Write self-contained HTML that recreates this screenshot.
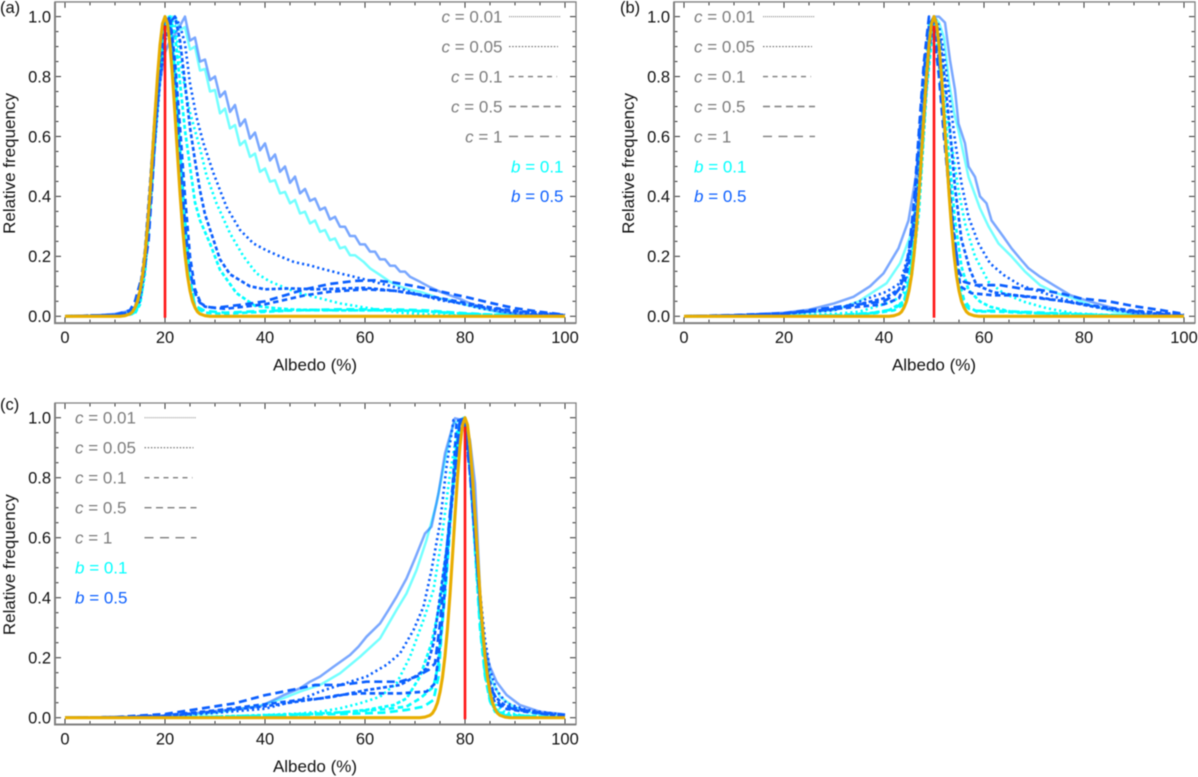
<!DOCTYPE html>
<html><head><meta charset="utf-8"><title>Albedo relative frequency</title>
<style>
html,body{margin:0;padding:0;background:#fff;width:1198px;height:777px;overflow:hidden}
svg{display:block;filter:blur(.45px)}
text{font-family:"Liberation Sans",Arial,sans-serif;fill:#111}
</style></head>
<body>
<svg id="chart" xmlns="http://www.w3.org/2000/svg" width="1198" height="777" viewBox="0 0 1198 777"></svg>
<script>
// Tick labels and legend
const xTickValues=[0,20,40,60,80,100];
const yTickValues=[0,0.2,0.4,0.6,0.8,1.0];
const xMinorStep=5;
const yMinorStep=0.05;
const legendC=['0.01','0.05','0.1','0.5','1'];
const legendB=['0.1','0.5'];
const legendY=[1.0,0.9,0.8,0.7,0.6,0.5,0.4];
const peakA=20, peakB=50, peakC=80;

// Panel (a): [albedo, relative frequency]
const a_b01_c001=[[0,0],[8,.003],[12,.008],[14,.02],[15,.05],[16,.16],[17,.36],[18,.58],[19,.8],[20,.95],[20.7,1],[22,1],[23,.955],[24,.965],[25,.89],[26,.9],[27,.82],[28,.825],[29,.75],[30,.755],[31,.677],[32,.693],[33,.627],[34,.638],[35,.571],[36,.586],[37,.532],[38,.543],[39,.482],[40,.493],[41,.449],[42,.454],[43,.41],[44,.415],[45,.377],[46,.388],[47,.343],[48,.349],[49,.31],[50,.32],[51,.282],[52,.288],[53,.254],[54,.26],[55,.227],[56,.232],[57,.204],[58,.204],[59.7,.182],[61,.16],[63,.138],[65,.115],[67,.099],[69,.088],[71,.082],[73,.071],[75,.06],[77,.054],[79,.043],[83,.027],[87,.012],[91,.004],[100,0]];
const a_b01_c005=[[0,0],[12,.003],[14,.012],[15,.04],[16,.14],[17,.34],[18,.58],[19,.8],[20,.95],[21,1],[22,.97],[23,.86],[24,.76],[25,.68],[26,.62],[27,.56],[28.3,.47],[30.3,.377],[33,.277],[35.7,.2],[38.3,.143],[41,.116],[44.3,.093],[47,.077],[51,.06],[55,.043],[59,.032],[63,.021],[67,.012],[75,.004],[87,.001],[100,0]];
const a_b01_c01=[[0,0],[12,.002],[14,.01],[15,.04],[16,.15],[17,.36],[18,.6],[19,.82],[20,.96],[21,1],[22,.94],[23,.78],[24,.62],[25,.5],[26,.38],[27,.32],[29,.243],[31,.155],[34.3,.077],[38,.035],[42,.027],[46,.022],[55,.02],[65,.02],[72,.017],[78,.01],[85,.005],[100,0]];
const a_b01_c05=[[0,0],[12,.002],[14,.012],[15,.05],[16,.18],[17,.4],[18,.65],[19,.87],[20,.98],[21,1],[22,.82],[23,.56],[24,.32],[25,.13],[26,.03],[28,.012],[32,.008],[36,.012],[40,.015],[46,.02],[55,.02],[65,.02],[72,.017],[78,.01],[85,.005],[100,0]];
const a_b01_c1=[[0,0],[12,.002],[14,.014],[15,.06],[16,.2],[17,.42],[18,.68],[19,.9],[20,1],[21,.96],[22,.76],[23,.5],[24,.27],[25,.11],[26,.035],[28,.018],[32,.012],[36,.015],[40,.018],[46,.02],[55,.023],[65,.023],[72,.02],[78,.012],[85,.006],[100,0]];
const a_b05_c001=[[0,0],[5,.002],[8,.005],[10,.008],[12,.015],[13,.02],[14,.03],[15,.06],[16,.2],[17,.42],[18,.62],[19,.78],[20,.88],[21,.92],[22,.94],[23,.97],[24,1],[25,.92],[26,.93],[27,.85],[28,.857],[29,.788],[30,.8],[31,.732],[32,.75],[33,.682],[34,.705],[35,.635],[36,.657],[37,.593],[38,.613],[39,.554],[40,.577],[41,.52],[42,.54],[43,.482],[44,.5],[45,.445],[46,.466],[47,.41],[48,.425],[49,.385],[50,.393],[51,.355],[52,.363],[53,.323],[54,.332],[55,.299],[56,.299],[57,.268],[58,.268],[59,.24],[60,.24],[61,.216],[62,.216],[63,.19],[64,.19],[65,.169],[66,.169],[67,.149],[68,.149],[69,.132],[71,.115],[73,.097],[75,.082],[77,.07],[79,.058],[81,.043],[83,.032],[85,.023],[87,.015],[91,.008],[95,.004],[100,.002]];
const a_b05_c005=[[0,0],[10,.005],[13,.012],[15,.05],[16,.16],[17,.36],[18,.58],[19,.78],[20,.92],[21,.98],[22,1],[23,.97],[24,.91],[25,.777],[26.3,.665],[27.7,.577],[29.7,.477],[32.3,.365],[35,.288],[37.7,.243],[40.3,.22],[43,.2],[45.7,.182],[47,.177],[49,.17],[51,.16],[55,.143],[59,.127],[63,.11],[67,.093],[71,.071],[75,.054],[79,.043],[83,.027],[87,.016],[91,.008],[100,.004]];
const a_b05_c01=[[0,0],[10,.004],[13,.014],[14,.03],[15,.08],[16,.2],[17,.4],[18,.62],[19,.8],[20,.92],[21,.98],[22,1],[23,.92],[24,.777],[25,.63],[26,.52],[27,.42],[28,.34],[29,.29],[30,.24],[31,.19],[33,.14],[35,.12],[37,.1],[40,.09],[45,.093],[50,.09],[55,.092],[60,.095],[66,.085],[72,.068],[80,.04],[85,.027],[90,.015],[100,.003]];
const a_b05_c05=[[0,0],[10,.004],[13,.015],[14,.03],[15,.09],[16,.22],[17,.44],[18,.67],[19,.86],[20,.97],[21,1],[22,.85],[23,.63],[24,.4],[25,.2],[26,.09],[27,.05],[28,.032],[32,.025],[40,.04],[48,.07],[53,.082],[60,.09],[66,.085],[72,.07],[80,.045],[85,.03],[90,.018],[95,.012],[100,.004]];
const a_b05_c1=[[0,0],[10,.005],[13,.02],[14,.05],[15,.11],[15.7,.14],[16.7,.25],[17.5,.45],[18.3,.68],[19,.9],[20,1],[21,.97],[22,.76],[22.3,.69],[23.3,.443],[24,.3],[24.7,.19],[25.5,.11],[26.3,.065],[27,.045],[28.3,.032],[30,.028],[32,.032],[36,.04],[40,.05],[44,.07],[48,.09],[53,.108],[58,.118],[62,.12],[66,.112],[70,.1],[75,.083],[80,.065],[85,.045],[90,.027],[95,.015],[100,.005]];
const goldA=[[0,0],[11,0],[12,.002],[13,.008],[13.5,.015],[14,.029],[14.5,.05],[15,.085],[15.5,.135],[16,.206],[16.5,.298],[17,.411],[17.5,.54],[18,.674],[18.5,.8],[19,.906],[19.5,.976],[20,1],[20.5,.976],[21,.906],[21.5,.8],[22,.674],[22.5,.54],[23,.411],[23.5,.298],[24,.206],[24.5,.135],[25,.085],[25.5,.05],[26,.029],[26.5,.015],[27,.008],[28,.002],[29,0],[100,0]];

// Panel (b)
const b_b01_c001=[[0,0],[10,.001],[20,.006],[30,.02],[35,.05],[37.9,.082],[40.5,.11],[43.2,.177],[45.2,.265],[46.5,.388],[47.9,.68],[49,.9],[50,1],[51,.98],[52,.93],[53,.78],[54,.68],[54.9,.62],[56.9,.465],[59.2,.36],[60.9,.3],[62.9,.243],[65.5,.2],[68.2,.149],[71.2,.104],[74.5,.077],[77.9,.06],[81.2,.038],[85.9,.016],[89.9,.007],[100,0]];
const b_b01_c005=[[0,0],[20,.003],[30,.008],[35,.015],[41.9,.05],[43.9,.077],[45.2,.165],[46.2,.277],[47.5,.5],[49,.9],[50,1],[51,.95],[52.2,.72],[53.5,.577],[54.9,.42],[56.2,.31],[58.2,.2],[60.9,.115],[63.9,.077],[67.9,.049],[72.5,.027],[77.9,.01],[85.9,.004],[100,0]];
const b_b01_c01=[[0,0],[25,.001],[35,.005],[41,.02],[44,.05],[45.5,.13],[47,.35],[48.5,.75],[50,1],[51,.9],[51.9,.72],[53.2,.5],[54.2,.32],[55.5,.165],[56.9,.088],[59.2,.049],[61.2,.032],[65.2,.016],[71.2,.01],[83,.004],[100,0]];
const b_b01_c05=[[0,0],[30,.002],[38,.01],[42,.02],[44,.04],[45,.1],[46,.25],[47,.45],[48,.72],[49,.95],[50,1],[51,.88],[52,.68],[53,.45],[54,.26],[55,.12],[56,.055],[57,.032],[58.5,.016],[62.5,.016],[67.2,.012],[75,.008],[83,.004],[100,0]];
const b_b01_c1=[[0,0],[30,.003],[38,.012],[42,.024],[44,.05],[45,.12],[46,.27],[47,.48],[48,.76],[49,.97],[50,1],[51,.85],[52,.64],[53,.41],[54,.22],[55,.09],[56,.04],[57,.025],[58.5,.018],[62.5,.018],[67.2,.015],[75,.01],[83,.005],[100,0]];
const b_b05_c001=[[0,0],[10,.003],[20,.012],[25,.022],[30,.043],[33.9,.065],[37.2,.1],[39.9,.143],[42.9,.227],[44.9,.32],[46.5,.48],[47.9,.72],[48.9,.91],[49.9,1],[51,1],[52.2,.98],[53.2,.855],[54.2,.755],[54.9,.643],[56.2,.577],[56.9,.5],[58.2,.465],[59.2,.4],[60.5,.377],[61.5,.32],[62.9,.288],[63.9,.265],[65.5,.227],[67.2,.193],[68.9,.16],[71.2,.132],[73.9,.104],[77.2,.071],[81.2,.049],[85.9,.027],[89.9,.01],[100,.001]];
const b_b05_c005=[[0,0],[10,.003],[20,.009],[30,.02],[35.2,.05],[40.5,.082],[43.2,.11],[44.2,.165],[45.9,.277],[47.2,.44],[48,.65],[49,.92],[50,1],[51,.97],[51.9,.888],[53.2,.72],[54.2,.587],[55.5,.443],[56.9,.332],[58.9,.243],[61.2,.177],[63.9,.138],[67.2,.104],[71.2,.082],[75.2,.06],[79.2,.043],[83.2,.027],[89.9,.012],[100,.004]];
const b_b05_c01=[[0,0],[10,.003],[20,.008],[30,.025],[35,.04],[40,.06],[43,.09],[44.5,.16],[46,.3],[47.5,.55],[49,.88],[50,1],[51,.95],[51.9,.83],[53.2,.62],[54.2,.43],[55.5,.255],[57.2,.155],[58.5,.104],[61.9,.08],[65.9,.071],[71.2,.062],[76.5,.049],[81.9,.032],[87.2,.021],[93.9,.01],[100,.003]];
const b_b05_c05=[[0,0],[10,.003],[20,.009],[30,.024],[35,.032],[40,.04],[43,.06],[44,.1],[45,.18],[46,.33],[47,.58],[48,.82],[49,.97],[50,1],[51,.85],[52,.65],[53,.45],[54,.28],[55,.14],[55.2,.1],[57.5,.077],[61.9,.07],[65.9,.07],[71.2,.06],[76.5,.049],[83.2,.032],[89.9,.019],[96.5,.01],[100,.005]];
const b_b05_c1=[[0,0],[10,.004],[20,.01],[25,.02],[30,.03],[35,.04],[40,.05],[42,.07],[43,.09],[44,.13],[45,.22],[46,.38],[47,.62],[48,.85],[49,1],[50,.95],[51,.8],[52,.6],[53,.42],[54,.26],[55,.15],[56,.115],[58.2,.104],[63.2,.104],[67.2,.093],[71.2,.088],[75.2,.077],[79.2,.06],[85.2,.049],[89.9,.034],[95.2,.021],[100,.008]];
const goldB=[[0,0],[41,0],[42,.002],[43,.008],[43.5,.015],[44,.029],[44.5,.05],[45,.085],[45.5,.135],[46,.206],[46.5,.298],[47,.411],[47.5,.54],[48,.674],[48.5,.8],[49,.906],[49.5,.976],[50,1],[50.5,.976],[51,.906],[51.5,.8],[52,.674],[52.5,.54],[53,.411],[53.5,.298],[54,.206],[54.5,.135],[55,.085],[55.5,.05],[56,.029],[56.5,.015],[57,.008],[58,.002],[59,0],[100,0]];

// Panel (c)
const c_b01_c001=[[0,0],[20,.003],[30,.016],[39,.04],[43.7,.065],[47,.087],[51,.109],[55,.148],[59,.203],[63,.264],[66.3,.359],[68.3,.414],[70.3,.492],[72.3,.592],[74.3,.714],[76,.859],[77.7,.98],[79.7,1],[81,.903],[82,.703],[83,.403],[84,.226],[85.3,.126],[87,.07],[89.7,.037],[93.7,.014],[100,.003]];
const c_b01_c005=[[0,0],[20,.001],[35,.006],[47,.014],[51,.02],[55,.031],[59,.048],[63,.07],[66.3,.114],[69,.203],[71.7,.326],[73.7,.426],[75.3,.592],[77,.814],[78.7,.98],[80,1],[81,.85],[82,.6],[83,.36],[84,.18],[85,.09],[86,.045],[88,.018],[92,.006],[100,.001]];
const c_b01_c01=[[0,0],[30,.003],[47,.012],[55,.017],[60.3,.026],[65.7,.042],[68.3,.064],[71,.137],[73.3,.248],[75,.381],[76.3,.559],[77.7,.803],[78.7,.97],[80,1],[81,.85],[82,.58],[83,.34],[84,.15],[85,.07],[86,.03],[88,.01],[100,0]];
const c_b01_c05=[[0,0],[30,.002],[47,.01],[57,.02],[63.7,.028],[68.3,.037],[71,.064],[73.7,.103],[74.7,.181],[75.7,.37],[77,.648],[78,.87],[79,.99],[80,1],[81,.83],[82,.58],[83,.32],[84,.15],[85,.06],[86,.025],[88,.008],[100,0]];
const c_b01_c1=[[0,0],[30,.002],[47,.01],[57,.013],[63.7,.017],[68.3,.026],[71.7,.037],[73.7,.059],[74.7,.137],[75.3,.281],[76.3,.47],[77.3,.703],[78.3,.892],[79.3,.99],[80,1],[81,.83],[82,.56],[83,.3],[84,.14],[85,.055],[86,.02],[88,.007],[100,0]];
const c_b05_c001=[[0,0],[10,.001],[20,.006],[30,.022],[39,.037],[43.7,.075],[47,.098],[49,.12],[51,.137],[53.7,.17],[57,.209],[58.7,.237],[60.3,.27],[63,.314],[64.7,.359],[66.3,.403],[68.3,.464],[70,.531],[72,.614],[73.3,.637],[74.7,.748],[76,.881],[78,.998],[80,.99],[81,.925],[82,.78],[83,.426],[83.7,.248],[85,.17],[86.3,.12],[88.3,.076],[91,.042],[95,.02],[100,.011]];
const c_b05_c005=[[0,0],[10,.001],[20,.005],[30,.016],[40,.03],[47,.06],[51,.087],[55,.109],[60.3,.137],[64.3,.176],[67,.214],[69.7,.292],[71.7,.37],[73.3,.492],[75,.648],[76.3,.837],[77.7,.992],[79,.99],[80,.98],[81,.85],[82,.64],[83,.42],[84,.26],[85,.16],[86.3,.092],[88.3,.048],[92.3,.026],[100,.009]];
const c_b05_c01=[[0,0],[10,.001],[20,.006],[30,.02],[40,.038],[47,.055],[53.7,.07],[60.3,.092],[67,.109],[70,.137],[72.3,.164],[73.7,.248],[75,.403],[76.3,.559],[77.3,.703],[78.3,.87],[79,.99],[80,.98],[81,.82],[82,.6],[83,.39],[84,.22],[85,.12],[86,.07],[88,.04],[92,.025],[96,.012],[100,.006]];
const c_b05_c05=[[0,0],[10,.002],[20,.008],[30,.024],[40,.045],[47,.059],[51,.064],[55,.076],[59,.081],[63,.081],[67,.081],[72.3,.087],[74,.114],[74.7,.203],[75.7,.37],[76.7,.592],[77.7,.814],[78.3,.98],[79,.99],[80,1],[81,.86],[82,.62],[83,.38],[84,.2],[85,.09],[86,.05],[88,.03],[92,.02],[96,.012],[100,.006]];
const c_b05_c1=[[0,0],[10,.002],[20,.012],[27,.03],[34,.048],[40,.075],[47,.098],[50,.109],[55,.109],[60.3,.12],[67,.12],[70.3,.137],[72.7,.159],[74,.181],[75,.314],[76,.492],[77,.681],[78.3,.87],[79,.998],[80,.96],[81,.814],[82,.592],[83,.381],[84,.203],[85,.103],[87,.042],[90.3,.026],[95,.017],[100,.009]];
const goldC=[[0,0],[71,0],[72,.002],[73,.008],[73.5,.015],[74,.029],[74.5,.05],[75,.085],[75.5,.135],[76,.206],[76.5,.298],[77,.411],[77.5,.54],[78,.674],[78.5,.8],[79,.906],[79.5,.976],[80,1],[80.5,.976],[81,.906],[81.5,.8],[82,.674],[82.5,.54],[83,.411],[83.5,.298],[84,.206],[84.5,.135],[85,.085],[85.5,.05],[86,.029],[86.5,.015],[87,.008],[88,.002],[89,0],[100,0]];

const NS='http://www.w3.org/2000/svg';
const root=document.getElementById('chart');
function mk(tag,attrs,parent,text){
  const el=document.createElementNS(NS,tag);
  for(const k in attrs)el.setAttribute(k,attrs[k]);
  if(text!==undefined)el.textContent=text;
  parent.appendChild(el);
  return el;
}
const BLUE='#0b5fff',CYAN='#00ffff';
const STYLES={
  c001:{dash:'',w:2.5,op:.55,gray:'1.2 .8',legendStroke:'#a0a0a0'},
  c005:{dash:'2.2 3',w:2.6,op:1,gray:'1.5 1.7',legendStroke:'#6a6a6a'},
  c01:{dash:'4 2.4',w:2.7,op:1,gray:'5 4.5',legendStroke:'#7d7d7d'},
  c05:{dash:'5.5 3.5',w:2.7,op:1,gray:'7 4.5',legendStroke:'#7d7d7d'},
  c1:{dash:'8 4.5',w:2.7,op:1,gray:'9 6.5',legendStroke:'#7d7d7d'}
};
const LEG_ORDER=['c001','c005','c01','c05','c1'];
function drawPanel(cfg){
  const g=mk('g',{},root);
  
  
  const xS=v=>cfg.x0+v*5;
  const yS=v=>cfg.y0-v*cfg.yScale;
  const L=cfg.x0-10,R=cfg.x0+511,T=yS(1.05)+.3,B=cfg.y0+6.8;

  // ticks
  const ticks=mk('g',{stroke:'#333','stroke-width':1},g);
  
  
  for(let i=0;i*xMinorStep<=100;i++){
    const v=i*xMinorStep,len=xTickValues.includes(v)?6:3.5;
    mk('line',{x1:xS(v),x2:xS(v),y1:B,y2:B-len},ticks);
    mk('line',{x1:xS(v),x2:xS(v),y1:T,y2:T+len},ticks);
  }
  for(let i=0;i<=20;i++){
    const v=i*yMinorStep,len=i%4===0?6:3.5;
    mk('line',{x1:L,x2:L+len,y1:yS(v),y2:yS(v)},ticks);
    mk('line',{x1:R,x2:R-len,y1:yS(v),y2:yS(v)},ticks);
  }

  // series
  const curves=mk('g',{fill:'none','stroke-linejoin':'round'},g);
  
  
  [['b01',CYAN],['b05',BLUE]].forEach(([b,color])=>{
    LEG_ORDER.forEach(c=>{
      const st=STYLES[c];
      const pts=cfg.series[b+'_'+c].map(p=>xS(p[0]).toFixed(1)+','+yS(p[1]).toFixed(1)).join(' ');
      const pl=mk('polyline',{points:pts,stroke:color,'stroke-width':st.w,'stroke-opacity':st.op},curves);
      if(st.dash)pl.setAttribute('stroke-dasharray',st.dash);
      
      
    });
  });
  const gold=mk('polyline',{points:cfg.gold.map(p=>xS(p[0]).toFixed(1)+','+yS(p[1]).toFixed(1)).join(' '),fill:'none',stroke:'#e8ad00','stroke-width':3.1,'stroke-linejoin':'round'},g);
  
  
  const red=mk('line',{x1:xS(cfg.peak),x2:xS(cfg.peak),y1:yS(0)+1.5,y2:yS(.97),stroke:'#ff1414','stroke-width':2.6},g);
  
  

  // frame
  const frame=mk('path',{d:`M${L} ${T}H${R}V${B}H${L}Z`,fill:'none',stroke:'#808080','stroke-width':1.3},g);
  
  
  const heavy=mk('path',{d:`M${L} ${T}V${B}H${R}`,fill:'none',stroke:'#808080','stroke-width':2},g);
  
  

  // tick labels
  xTickValues.forEach(v=>{
    const t=mk('text',{x:xS(v),y:cfg.y0+26.7,'text-anchor':'middle','font-size':16.5},g,String(v));
    
    
  });
  yTickValues.forEach(v=>{
    const t=mk('text',{x:L-4,y:yS(v)+5.8,'text-anchor':'end','font-size':16.5},g,v.toFixed(1));
    
    
  });
  const xt=mk('text',{x:xS(50),y:cfg.y0+54.2,'text-anchor':'middle','font-size':17},g,'Albedo (%)');
  
  
  const yc=yS(.51);
  const yt=mk('text',{x:0,y:0,'text-anchor':'middle','font-size':17,transform:`translate(${L-40} ${yc}) rotate(-90)`},g,'Relative frequency');
  
  
  const pl=mk('text',{x:cfg.labelX,y:cfg.labelY,'font-size':16.5},g,'('+cfg.id+')');
  
  

  // legend
  const leg=mk('g',{'font-size':17},g);
  
  
  const lineEnds=[52,49,48,52,52];
  function entry(sym,val,color,yv,x,anchor){
    const t=mk('text',{x:x,y:yS(yv)+5.8,'text-anchor':anchor,style:'fill:'+color},leg);
    const i=mk('tspan',{'font-style':'italic'},t,sym);
    
    
    const r=mk('tspan',{},t,' = '+val);
    
    
    
    
  }
  legendC.forEach((val,i)=>{
    entry('c',val,'#7c7c7c',legendY[i],cfg.legText,cfg.legAnchor);
    const st=STYLES[LEG_ORDER[i]];
    const l=mk('line',{x1:cfg.legLine,x2:cfg.legLine+lineEnds[i],y1:yS(legendY[i]),y2:yS(legendY[i]),stroke:st.legendStroke,'stroke-width':i<2?1.2:1.4,'stroke-dasharray':st.gray},leg);
    
    
  });
  legendB.forEach((val,i)=>{
    entry('b',val,i===0?CYAN:BLUE,legendY[5+i],cfg.legB,cfg.legBAnchor);
  });
}

drawPanel({id:'a',x0:65,y0:316.3,yScale:299.7,peak:peakA,gold:goldA,labelX:0,labelY:13,
  legText:502.5,legAnchor:'end',legLine:509,legB:563.5,legBAnchor:'end',
  series:{b01_c001:a_b01_c001,b01_c005:a_b01_c005,b01_c01:a_b01_c01,b01_c05:a_b01_c05,b01_c1:a_b01_c1,
          b05_c001:a_b05_c001,b05_c005:a_b05_c005,b05_c01:a_b05_c01,b05_c05:a_b05_c05,b05_c1:a_b05_c1}});
drawPanel({id:'b',x0:684,y0:316.3,yScale:299.7,peak:peakB,gold:goldB,labelX:620,labelY:13,
  legText:694,legAnchor:'start',legLine:763,legB:694,legBAnchor:'start',
  series:{b01_c001:b_b01_c001,b01_c005:b_b01_c005,b01_c01:b_b01_c01,b01_c05:b_b01_c05,b01_c1:b_b01_c1,
          b05_c001:b_b05_c001,b05_c005:b_b05_c005,b05_c01:b_b05_c01,b05_c05:b_b05_c05,b05_c1:b_b05_c1}});
drawPanel({id:'c',x0:65,y0:717.7,yScale:300,peak:peakC,gold:goldC,labelX:0,labelY:410,
  legText:75,legAnchor:'start',legLine:144.5,legB:75,legBAnchor:'start',
  series:{b01_c001:c_b01_c001,b01_c005:c_b01_c005,b01_c01:c_b01_c01,b01_c05:c_b01_c05,b01_c1:c_b01_c1,
          b05_c001:c_b05_c001,b05_c005:c_b05_c005,b05_c01:c_b05_c01,b05_c05:c_b05_c05,b05_c1:c_b05_c1}});
</script>
</body></html>
